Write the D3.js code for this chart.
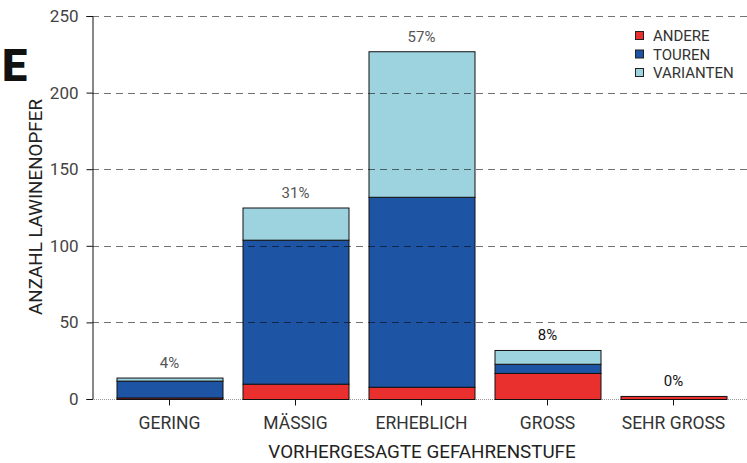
<!DOCTYPE html>
<html><head><meta charset="utf-8">
<script src="https://cdn.jsdelivr.net/npm/d3@7"></script>
<style>body{margin:0;background:#fff}svg{display:block}text{font-family:Roboto,"DejaVu Sans",sans-serif}</style>
</head><body><div id="c"></div>
<script>
const categories = ["GERING","MÄSSIG","ERHEBLICH","GROSS","SEHR GROSS"];
const andere    = [1, 10, 8, 17, 2];
const touren    = [11, 94, 124, 6, 0];
const varianten = [2, 21, 95, 9, 0];
const percentLabels = ["4%","31%","57%","8%","0%"];
const seriesNames = ["ANDERE","TOUREN","VARIANTEN"];
const yTicks = [0,50,100,150,200,250];

const W=747,H=463;
const colors={ANDERE:"#ea302e",TOUREN:"#1e54a4",VARIANTEN:"#9dd3df"};
const svg=d3.select("#c").append("svg").attr("width",W).attr("height",H);
const x=d3.scaleBand().domain(categories).range([106.5,736.5]).paddingInner(20/126).paddingOuter(10/126);
const y=d3.scaleLinear().domain([0,250]).range([399,16]);
const axisX=92;

const rows=categories.map((c,i)=>({cat:c,ANDERE:andere[i],TOUREN:touren[i],VARIANTEN:varianten[i]}));
const stacked=d3.stack().keys(seriesNames)(rows);

svg.append("line").attr("x1",axisX).attr("x2",W).attr("y1",y(0)+0.5).attr("y2",y(0)+0.5)
  .attr("stroke","#999").attr("stroke-dasharray","1,1");

stacked.forEach(s=>{
  svg.append("g").selectAll("rect").data(s.filter(d=>d[1]-d[0]>0)).join("rect")
    .attr("x",d=>x(d.data.cat)+0.5).attr("width",x.bandwidth())
    .attr("y",d=>y(d[1])+0.5).attr("height",d=>y(d[0])-y(d[1]))
    .attr("fill",colors[s.key]).attr("stroke","#111").attr("stroke-width",1);
});

svg.append("g").selectAll("line").data(yTicks.filter(t=>t>0)).join("line")
  .attr("x1",axisX).attr("x2",W).attr("y1",d=>Math.round(y(d))+0.5).attr("y2",d=>Math.round(y(d))+0.5)
  .attr("stroke","#000").attr("stroke-opacity",0.55).attr("stroke-width",1.2).attr("stroke-dasharray","7,5");

const ya=svg.append("g").attr("transform",`translate(${axisX+0.5},0)`)
  .call(d3.axisLeft(y).tickValues(yTicks).tickSize(6).tickPadding(8));
ya.select(".domain").attr("stroke","#111");
ya.selectAll(".tick line").attr("stroke","#111");
ya.selectAll("text").attr("font-size",17).attr("fill","#444").attr("font-family","Roboto");

const xa=svg.append("g").attr("transform",`translate(0,${y(0)+0.5})`)
  .call(d3.axisBottom(x).tickSize(6).tickPadding(11));
xa.select(".domain").remove();
xa.selectAll(".tick line").attr("stroke","#111");
xa.selectAll("text").attr("font-size",17.5).attr("fill","#333").attr("font-family","Roboto");

svg.append("g").selectAll("text").data(rows).join("text")
  .attr("x",d=>x(d.cat)+x.bandwidth()/2)
  .attr("y",d=>y(d.ANDERE+d.TOUREN+d.VARIANTEN)-9.5)
  .attr("text-anchor","middle").attr("font-size",15)
  .attr("fill",(d,i)=>i>=3?"#111":"#555")
  .text((d,i)=>percentLabels[i]);

svg.append("text").attr("x",422).attr("y",458).attr("text-anchor","middle")
  .attr("font-size",18.8).attr("fill","#222").text("VORHERGESAGTE GEFAHRENSTUFE");
svg.append("text").attr("transform","translate(42,207) rotate(-90)").attr("text-anchor","middle")
  .attr("font-size",18.8).attr("fill","#222").text("ANZAHL LAWINENOPFER");
svg.append("text").attr("x",2).attr("y",81).attr("font-size",45).attr("font-weight",900)
  .attr("fill","#111").text("E");

const lg=svg.append("g").selectAll("g").data(seriesNames).join("g")
  .attr("transform",(d,i)=>`translate(635,${31+i*18.5})`);
lg.append("rect").attr("x",0.5).attr("y",0.5).attr("width",8).attr("height",8)
  .attr("fill",d=>colors[d]).attr("stroke","#222");
lg.append("text").attr("x",18).attr("y",10).attr("font-size",15).attr("fill","#333").text(d=>d);
</script></body></html>
